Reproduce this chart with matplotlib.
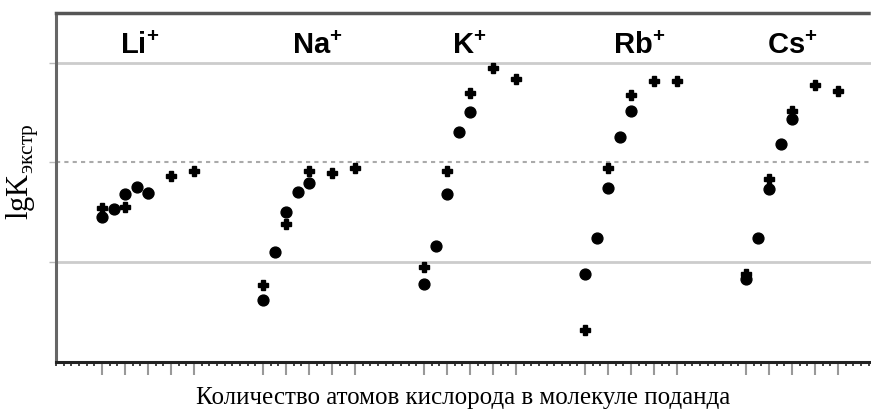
import matplotlib
matplotlib.use("Agg")
import matplotlib.pyplot as plt
import numpy as np

# Ионы и положение групп на оси x (шаг группы = 7 делений)
ions = ["Li", "Na", "K", "Rb", "Cs"]
group_step = 7

# Круги: смещение внутри группы и lgK
circle_dx = [
    [0, 0.5, 1, 1.5, 2],
    [0, 0.5, 1, 1.5, 2],
    [0, 0.5, 1, 1.5, 2],
    [0, 0.5, 1, 1.5, 2],
    [0, 0.5, 1, 1.5, 2],
]
circle_lgk = [
    [1.45, 1.53, 1.68, 1.75, 1.69],
    [0.62, 1.10, 1.50, 1.70, 1.79],
    [0.78, 1.16, 1.68, 2.30, 2.51],
    [0.88, 1.24, 1.74, 2.25, 2.52],
    [0.83, 1.24, 1.73, 2.18, 2.44],
]

# Крестики
plus_dx = [
    [0, 1, 2, 3, 4],
    [0, 1, 2, 3, 4],
    [0, 1, 2, 3, 4],
    [0, 1, 2, 3, 4],
    [0, 1, 2, 3, 4],
]
plus_lgk = [
    [1.54, 1.55, 1.69, 1.86, 1.91],
    [0.77, 1.38, 1.91, 1.89, 1.94],
    [0.95, 1.91, 2.70, 2.95, 2.84],
    [0.32, 1.94, 2.68, 2.82, 2.82],
    [0.88, 1.83, 2.52, 2.78, 2.72],
]

major_ticks = [g * group_step + k for g in range(len(ions)) for k in range(5)]

plt.rcParams['mathtext.fontset'] = 'custom'
plt.rcParams['mathtext.rm'] = 'Liberation Serif'
plt.rcParams['mathtext.bf'] = 'Liberation Sans:bold'

fig = plt.figure(figsize=(8.71, 4.11), dpi=100)
ax = fig.add_axes([0.0643, 0.1204, 0.9357, 0.848])

for g in range(len(ions)):
    xc = np.array(circle_dx[g]) + g * group_step
    xp = np.array(plus_dx[g]) + g * group_step
    ax.plot(xc, circle_lgk[g], 'o', color='black', markersize=7.8, zorder=3)
    ax.plot(xp, plus_lgk[g], 'P', color='black', markersize=6.5, zorder=3)

# подписи ионов
label_x = [0.78, 8.26, 15.2, 22.2, 28.9]
for name, lx in zip(ions, label_x):
    ax.text(lx, 3.094, r"$\mathbf{" + name + r"^{+}}$", fontsize=21,
            ha='left', va='baseline')

ax.set_xlim(-2, 33.43)
ax.set_ylim(0, 3.5)

# сетка
ax.axhline(1, color='#cccccc', lw=2, zorder=1)
ax.axhline(3, color='#cccccc', lw=2, zorder=1)
ax.axhline(2, color='#aaaaaa', lw=1.5, ls=(0, (2, 2)), zorder=1)

ax.spines['right'].set_visible(False)
ax.spines['top'].set_color('#555555')
ax.spines['top'].set_linewidth(2.5)
ax.spines['top'].set_linestyle((0, (1.5, 1)))
ax.spines['left'].set_color('#666666')
ax.spines['left'].set_linewidth(2.2)
ax.spines['bottom'].set_color('#222222')
ax.spines['bottom'].set_linewidth(2.2)
ax.spines['bottom'].set_linestyle((0, (1.5, 1)))

ax.set_xticks(major_ticks)
ax.set_xticklabels([])
ax.set_xticks(np.arange(-2, 33.5, 1 / 3), minor=True)
ax.tick_params(axis='x', which='major', length=9, width=1.5, color='#999999')
ax.tick_params(axis='x', which='minor', length=3, width=1.2, color='#222222')
ax.set_yticks([1, 2, 3])
ax.set_yticklabels([])
ax.tick_params(axis='y', length=5, width=1, color='#bbbbbb')

ax.set_xlabel("Количество атомов кислорода в молекуле поданда",
              fontsize=18, family='Liberation Serif', labelpad=6)
fig.text(0.026, 1 - 172 / 411, r"lgK$_{\mathrm{экстр}}$", rotation=90,
         fontsize=22, family='Liberation Serif', ha='center', va='center')

fig.savefig("out.png", dpi=100)
